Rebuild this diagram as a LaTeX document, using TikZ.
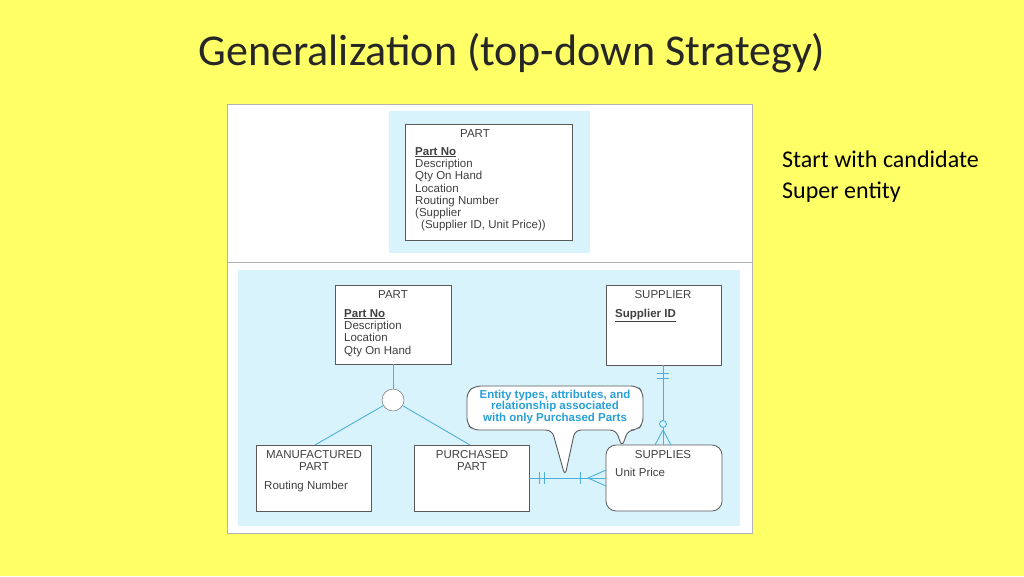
\documentclass[tikz,border=0pt]{standalone}
\usepackage{fontspec}
\setmainfont{Carlito}
\newfontfamily\arial{Liberation Sans}
\definecolor{relc}{RGB}{80,175,215}
\definecolor{coc}{RGB}{40,160,215}
\begin{document}
\begin{tikzpicture}[x=1pt,y=-1pt,
  ent/.style={draw=gray!70!black,fill=white,line width=0.8pt},
  lbl/.style={font=\arial\fontsize{11.5}{12.3}\selectfont,text=black!75,align=left,anchor=north west,inner sep=0},
  ttl/.style={font=\arial\fontsize{11.5}{12.5}\selectfont,text=black!75,align=center,anchor=north,inner sep=0},
  rel/.style={draw=relc,line width=0.9pt}]
\useasboundingbox (0,0) rectangle (1024,576);
\fill[fill={rgb,255:red,255;green,255;blue,102}] (0,0) rectangle (1024,576);
\node[font=\fontsize{44}{50}\selectfont,text=black!85] (title) at (512,53) {Generalization (top-down Strategy)};
% panel
\draw[fill=white,draw=gray!60] (227,104) rectangle (752,533);
\draw[gray!60,line width=1pt] (227,262) -- (752,262);
\fill[cyan!15] (389,111) rectangle (590,253);
\fill[cyan!15] (238,270) rectangle (740,526);
% top PART
\draw[ent] (405,124) rectangle (572,240);
\node[ttl] (tpt) at (475,129) {PART};
\node[lbl] (tpl) at (415,147) {\underline{\textbf{Part No}}\\Description\\Qty On Hand\\Location\\Routing Number\\(Supplier\\\hspace{6pt}(Supplier ID, Unit Price))};
% bottom
\draw[ent] (335,285) rectangle (451,364);
\node[ttl] (pt) at (393,290) {PART};
\node[lbl] (pl) at (344,309) {\underline{\textbf{Part No}}\\Description\\Location\\Qty On Hand};
\draw[ent] (606,285) rectangle (721,365);
\node[ttl] (st) at (663,290) {SUPPLIER};
\node[lbl] (sl) at (615,309) {\underline{\textbf{Supplier ID}}};
\draw[ent] (256,445) rectangle (371,511);
\node[ttl] (mt) at (314,450) {MANUFACTURED\\PART};
\node[lbl] (ml) at (264,481) {Routing Number};
\draw[ent] (414,445) rectangle (529,511);
\node[ttl] (ppt) at (472,450) {PURCHASED\\PART};
\draw[ent,rounded corners=10pt] (606,445) rectangle (722,511);
\node[ttl] (sut) at (663,450) {SUPPLIES};
\node[lbl] (sul) at (615,468) {Unit Price};
% connectors
\coordinate (pb) at (393,364);
\node[circle,draw=gray!70!black,fill=white,minimum size=22pt,inner sep=0] (c) at (393,400) {};
\draw[rel] (pb) -- (c);
\draw[rel] (c) -- (315,445);
\draw[rel] (c) -- (470,445);
\coordinate (a1) at (529,478); \coordinate (a2) at (606,478);
\draw[rel] (a1) -- (a2);
\draw[rel] (539,472)--(539,484) (544,472)--(544,484) (580,472)--(580,484);
\draw[rel] (588,478)--(606,470) (588,478)--(606,486);
\coordinate (b1) at (663,365); \coordinate (b2) at (663,445);
\draw[rel] (b1) -- (b2);
\draw[rel] (657,373)--(669,373) (657,378)--(669,378);
\draw[rel,fill=cyan!15] (663,424) circle (3.5);
\draw[rel] (663,430)--(655,445) (663,430)--(671,445);
% callout
\draw[draw=gray!70!black,fill=white,line width=0.9pt,rounded corners=6pt]
  (475,386) -- (637,386) -- (643,392) -- (643,424) -- (637,430) -- (628,430)
  -- (622,447) -- (616,430) -- (575,430) -- (565,476) -- (552,430) -- (473,430) -- (467,424) -- (467,392) -- cycle;
\node[font=\arial\bfseries\fontsize{11.5}{11.5}\selectfont,text=coc,align=center] (co) at (555,407) {Entity types, attributes, and\\relationship associated\\with only Purchased Parts};
\node[font=\fontsize{24}{31}\selectfont,anchor=north west,align=left,inner sep=0] (rt) at (782,151) {Start with candidate\\Super entity};
\end{tikzpicture}
\end{document}
